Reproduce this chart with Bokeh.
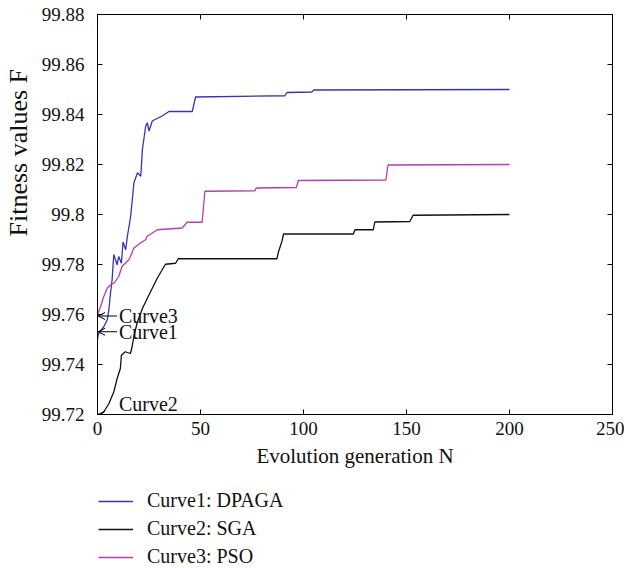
from bokeh.plotting import figure
from bokeh.layouts import column
from bokeh.models import (Range1d, LinearAxis, FixedTicker, CustomJSTickFormatter,
                          Legend, LegendItem, Label, Arrow, OpenHead)
from bokeh.embed import file_html
from bokeh.resources import INLINE

# ---------------- data ----------------
dpaga_n = [0, 0.5, 3.0, 4.7, 5.5, 6.3, 7.1, 7.9, 9.5, 10.3, 11.6, 12.4, 13.7, 14.5,
           16.1, 17.7, 19.4, 21.0, 21.8, 23.4, 24.2, 25.0, 26.6, 28.2, 31.4, 34.7,
           46.0, 47.6, 91.0, 92.0, 104.0, 105.0, 200]
dpaga_f = [99.7500, 99.7524, 99.7550, 99.7578, 99.7618, 99.7685, 99.7739, 99.7840,
           99.7799, 99.7832, 99.7805, 99.7890, 99.7859, 99.7912, 99.7993, 99.8127,
           99.8167, 99.8153, 99.8260, 99.8354, 99.8367, 99.8334, 99.8374, 99.8381,
           99.8394, 99.8412, 99.8412, 99.8470, 99.8475, 99.8488, 99.8490, 99.8498,
           99.8500]

sga_n = [0, 1.5, 3.0, 5.5, 7.9, 9.5, 11.1, 11.6, 13.5, 16.0, 16.8, 17.7, 19.4, 21.8,
         24.2, 26.6, 29.0, 31.4, 33.0, 37.9, 39.2, 87.1, 87.9, 89.5, 90.3, 124.2,
         125.0, 133.9, 134.6, 151.6, 153.2, 200]
sga_f = [99.7200, 99.7200, 99.7210, 99.7243, 99.7290, 99.7343, 99.7384, 99.7437,
         99.7451, 99.7444, 99.7471, 99.7515, 99.7571, 99.7624, 99.7665, 99.7705,
         99.7745, 99.7779, 99.7801, 99.7805, 99.7823, 99.7823, 99.7852, 99.7892,
         99.7922, 99.7922, 99.7939, 99.7939, 99.7970, 99.7972, 99.7997, 99.8000]

pso_n = [0, 1.5, 3.0, 4.7, 6.3, 8.0, 10.3, 11.9, 15.2, 16.0, 17.6, 20.8, 23.4, 24.0,
         26.6, 29.0, 41.1, 43.5, 50.8, 52.1, 76.4, 77.0, 96.5, 97.5, 140.0, 141.0, 200]
pso_f = [99.7600, 99.7631, 99.7671, 99.7705, 99.7718, 99.7725, 99.7752, 99.7792,
         99.7819, 99.7832, 99.7865, 99.7886, 99.7899, 99.7912, 99.7926, 99.7939,
         99.7946, 99.7969, 99.7969, 99.8093, 99.8095, 99.8106, 99.8108, 99.8136,
         99.8138, 99.8198, 99.8200]

x_ticks = [0, 50, 100, 150, 200, 250]
y_ticks = [99.72, 99.74, 99.76, 99.78, 99.80, 99.82, 99.84, 99.86, 99.88]

series_names = ["Curve1: DPAGA", "Curve2: SGA", "Curve3: PSO"]
curve_tags = ["Curve1", "Curve2", "Curve3"]
curve_tag_f = [99.7531, 99.7200, 99.7594]
x_label = "Evolution generation N"
y_label = "Fitness values F"

# ---------------- styling ----------------
FONT = "Liberation Serif"
INK = "#111111"
COLORS = ["#3434b4", "#111111", "#b53cb5"]

p = figure(width=624, height=475,
           x_range=Range1d(0, 250), y_range=Range1d(99.72, 99.88),
           output_backend="svg", toolbar_location=None,
           x_axis_location=None, y_axis_location=None,
           min_border_left=95, min_border_right=12,
           min_border_top=14, min_border_bottom=61)
p.xgrid.visible = False
p.ygrid.visible = False
p.outline_line_color = "black"
p.outline_line_width = 1
p.background_fill_color = "white"
p.border_fill_color = "white"


def style_axis(ax, show_labels, standoff=5):
    ax.major_tick_in = 5
    ax.major_tick_out = 0
    ax.minor_tick_line_color = None
    ax.axis_line_color = "black"
    ax.major_tick_line_color = "black"
    ax.major_label_text_font = FONT
    ax.major_label_text_font_size = "19px"
    ax.major_label_text_color = INK
    ax.major_label_standoff = standoff
    ax.axis_label_text_font = FONT
    ax.axis_label_text_font_style = "normal"
    ax.axis_label_text_color = INK
    if not show_labels:
        ax.formatter = CustomJSTickFormatter(code="return '';")
    return ax


bottom = style_axis(LinearAxis(ticker=FixedTicker(ticks=x_ticks)), True, 7)
bottom.axis_label = x_label
bottom.axis_label_text_font_size = "21px"
bottom.axis_label_standoff = 6
top = style_axis(LinearAxis(ticker=FixedTicker(ticks=x_ticks)), False)
left = style_axis(LinearAxis(ticker=FixedTicker(ticks=y_ticks)), True, 13)
left.formatter = CustomJSTickFormatter(code="return tick.toFixed(2).replace(/0$/, '');")
# leading no-break spaces push the (bottom-to-top) label towards the top, as in the reference
left.axis_label = "\u00a0" * 19 + y_label
left.axis_label_text_font_size = "26px"
left.axis_label_standoff = 6
right = style_axis(LinearAxis(ticker=FixedTicker(ticks=y_ticks)), False)
p.add_layout(bottom, "below")
p.add_layout(top, "above")
p.add_layout(left, "left")
p.add_layout(right, "right")

p.line(dpaga_n, dpaga_f, line_color=COLORS[0], line_width=1.3)
p.line(sga_n, sga_f, line_color=COLORS[1], line_width=1.3)
p.line(pso_n, pso_f, line_color=COLORS[2], line_width=1.3)

# curve tags with arrows
for tag, f in zip(curve_tags, curve_tag_f):
    p.add_layout(Arrow(end=OpenHead(size=7, line_width=1, line_color="black"),
                       x_start=9.5, y_start=f, x_end=0.3, y_end=f,
                       line_width=1, line_color="black"))
    p.add_layout(Label(x=10.4, y=f, text=tag, text_font=FONT, text_font_size="20px",
                       text_baseline="bottom" if f <= 99.7201 else "middle",
                       text_color=INK))

# ---------------- legend strip below the chart ----------------
lg = figure(width=624, height=93, x_range=Range1d(0, 1), y_range=Range1d(0, 1),
            output_backend="svg", toolbar_location=None,
            x_axis_location=None, y_axis_location=None,
            min_border_left=0, min_border_right=0, min_border_top=0, min_border_bottom=0)
lg.xgrid.visible = False
lg.ygrid.visible = False
lg.outline_line_color = None
lg.background_fill_color = "white"
lg.border_fill_color = "white"
# same series drawn in the strip (outside its visible range) so the keys have real glyphs
key_renderers = [lg.line(xs, ys, line_color=c, line_width=1.3)
                 for xs, ys, c in zip([dpaga_n, sga_n, pso_n],
                                      [dpaga_f, sga_f, pso_f], COLORS)]
legend = Legend(items=[LegendItem(label=name, renderers=[r])
                       for name, r in zip(series_names, key_renderers)],
                location=(1, 0), orientation="vertical",
                glyph_width=35, glyph_height=20, label_height=20, spacing=5,
                label_standoff=14, padding=0, margin=0,
                border_line_alpha=0, background_fill_alpha=0,
                label_text_font=FONT, label_text_font_size="20px",
                label_text_color=INK)
lg.add_layout(legend)

page = column(p, lg, spacing=0)
open("out.html", "w").write(file_html(page, INLINE))
